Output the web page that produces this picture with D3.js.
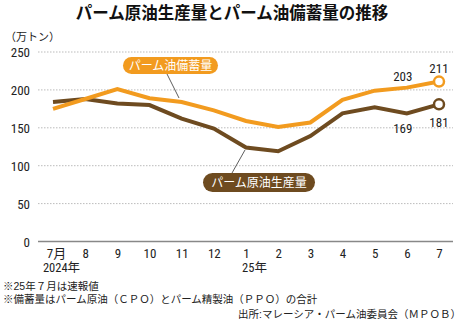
<!DOCTYPE html>
<html>
<head>
<meta charset="utf-8">
<script src="https://cdn.jsdelivr.net/npm/d3@7"></script>
<style>
  body { margin: 0; background: #fff; }
  svg { display: block; font-family: "Noto Sans CJK JP", sans-serif; }
  .tick-num { font-family: "Liberation Sans Narrow", "Roboto Condensed", "Noto Sans CJK JP", sans-serif; }
  .note { font-family: "Liberation Sans", "Noto Sans CJK JP", sans-serif; }
</style>
</head>
<body>
<div id="content"></div>
<script>
const MONTHS = ['7月', '8', '9', '10', '11', '12', '1', '2', '3', '4', '5', '6', '7'];
const PRODUCTION = [184, 188, 182, 180, 162, 149, 124, 119, 139, 169, 177, 169, 181];
const STOCKS = [175, 188, 201, 189, 184, 173, 159, 151, 157, 187, 199, 203, 211];
const Y_TICKS = [0, 50, 100, 150, 200, 250];
const YEAR_LABELS = {0: '2024年', 6: '25年'};
const NOTES = ['※25年７月は速報値', '※備蓄量はパーム原油（ＣＰＯ）とパーム精製油（ＰＰＯ）の合計'];
const SOURCE = '出所:マレーシア・パーム油委員会（ＭＰＯＢ）';

const ORANGE = '#f29b1f';
const BROWN = '#6e4b20';

var width = 465;
var height = 321;

var svg = d3.select('#content')
.append('svg')
.attr('width', width)
.attr('height', height);

// title
svg.append('text')
.attr('x', 232)
.attr('y', 19)
.attr('text-anchor', 'middle')
.attr('font-size', 16.5)
.attr('font-weight', 'bold')
.attr('fill', '#111')
.text('パーム原油生産量とパーム油備蓄量の推移');

svg.append('text')
.attr('x', 5)
.attr('y', 41)
.attr('font-size', 11)
.attr('fill', '#222')
.text('（万トン）');

var xScale = d3.scalePoint()
.domain(d3.range(MONTHS.length))
.range([53, 439]);

var yScale = d3.scaleLinear()
.domain([0, 250])
.range([241.5, 52]);

// grid
svg.append('g')
.selectAll('line')
.data(Y_TICKS.filter(d => d > 0))
.enter()
.append('line')
.attr('x1', 38)
.attr('x2', 453)
.attr('y1', d => yScale(d))
.attr('y2', d => yScale(d))
.attr('stroke', '#aaa')
.attr('stroke-width', 0.8)
.attr('stroke-dasharray', '1.5,1.5');

svg.append('line')
.attr('x1', 38)
.attr('x2', 453)
.attr('y1', yScale(0))
.attr('y2', yScale(0))
.attr('stroke', '#888')
.attr('stroke-width', 1.5);

// y axis labels
var yAxis = d3.axisLeft(yScale)
.tickValues(Y_TICKS)
.tickSize(0)
.tickPadding(0);

var yg = svg.append('g')
.attr('transform', 'translate(30, 0)')
.call(yAxis);
yg.select('.domain').remove();
yg.selectAll('text')
.attr('class', 'tick-num')
.attr('font-size', 13)
.attr('fill', '#222')
.attr('dy', '0.35em');

// x axis labels, year under the first month of each year
var xAxis = d3.axisBottom(xScale)
.tickFormat('')
.tickSize(0)
.tickPadding(0);

var xg = svg.append('g')
.attr('transform', 'translate(0, 248)')
.call(xAxis);
xg.select('.domain').remove();
xg.selectAll('.tick text')
.attr('class', 'tick-num')
.attr('font-size', 13)
.attr('fill', '#222')
.attr('y', 10)
.attr('dy', null)
.each(function (i) {
    var t = d3.select(this);
    t.append('tspan')
    .attr('x', i === 0 ? 3 : 0)
    .text(MONTHS[i]);
    if (YEAR_LABELS[i]) {
        t.append('tspan')
        .attr('x', 8)
        .attr('dy', 14)
        .attr('font-size', 12.5)
        .text(YEAR_LABELS[i]);
    }
});

// lines
var line = d3.line()
.x((d, i) => xScale(i))
.y(d => yScale(d));

[[PRODUCTION, BROWN], [STOCKS, ORANGE]].forEach(function (s) {
    var values = s[0];
    svg.append('path')
    .datum(values)
    .attr('fill', 'none')
    .attr('stroke', s[1])
    .attr('stroke-width', 4)
    .attr('stroke-linejoin', 'miter')
    .attr('d', line);

    var last = values.length - 1;
    svg.append('circle')
    .attr('cx', xScale(last))
    .attr('cy', yScale(values[last]))
    .attr('r', 5)
    .attr('fill', '#fff')
    .attr('stroke', s[1])
    .attr('stroke-width', 2.5);
});

// value labels
var valueLabels = [
    {i: 11, v: STOCKS[11], dy: -7},
    {i: 12, v: STOCKS[12], dy: -9},
    {i: 11, v: PRODUCTION[11], dy: 20},
    {i: 12, v: PRODUCTION[12], dy: 23},
];
svg.selectAll('.val')
.data(valueLabels)
.enter()
.append('text')
.attr('class', 'val tick-num')
.attr('x', d => xScale(d.i) + (d.i === 11 ? -4 : 0))
.attr('y', d => yScale(d.v) + d.dy)
.attr('text-anchor', 'middle')
.attr('font-size', 13)
.attr('fill', '#222')
.text(d => d.v);

// callouts
function callout(text, color, x, y, w, h, lx1, ly1, lx2, ly2) {
    svg.append('line')
    .attr('x1', lx1).attr('y1', ly1)
    .attr('x2', lx2).attr('y2', ly2)
    .attr('stroke', '#333')
    .attr('stroke-width', 0.8);
    svg.append('rect')
    .attr('x', x).attr('y', y)
    .attr('width', w).attr('height', h)
    .attr('rx', h / 2)
    .attr('fill', color);
    svg.append('text')
    .attr('x', x + w / 2)
    .attr('y', y + h / 2)
    .attr('dy', '0.36em')
    .attr('text-anchor', 'middle')
    .attr('font-size', 12)
    .attr('fill', '#fff')
    .text(text);
}

callout('パーム油備蓄量', ORANGE, 123, 57, 95, 17, 167, 74, 179, 98);
callout('パーム原油生産量', BROWN, 203, 173, 112, 19, 245, 150, 232, 173);

// notes
var notes = svg.append('text')
.attr('class', 'note')
.attr('x', 3)
.attr('y', 290)
.attr('font-size', 10.5)
.attr('fill', '#222');
notes.selectAll('tspan')
.data(NOTES)
.enter()
.append('tspan')
.attr('x', 3)
.attr('dy', (d, i) => i === 0 ? 0 : 13)
.text(d => d);

svg.append('text')
.attr('class', 'note')
.attr('x', 461)
.attr('y', 318)
.attr('text-anchor', 'end')
.attr('font-size', 10.5)
.attr('fill', '#222')
.text(SOURCE);
</script>
</body>
</html>
